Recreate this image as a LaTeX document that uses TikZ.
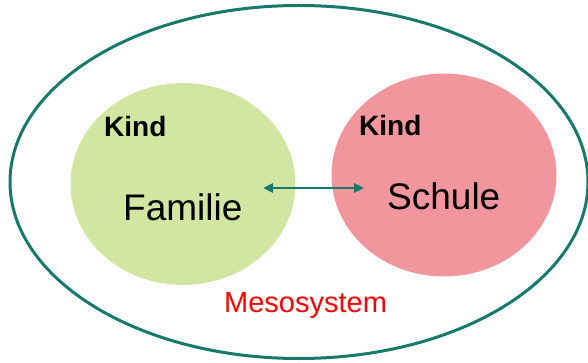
\documentclass[tikz,border=0pt]{standalone}
\usepackage{fontspec}
\setmainfont{Liberation Sans}
\usetikzlibrary{shapes.geometric,arrows.meta}
\definecolor{mesoteal}{HTML}{17786C}
\definecolor{famgreen}{HTML}{D1E7A1}
\definecolor{schulrot}{HTML}{F1969C}
\definecolor{mesorot}{HTML}{FF0000}
\begin{document}
\begin{tikzpicture}
[
    x=1pt, y=-1pt,
    kreis/.style={ellipse, inner sep=0pt},
    textmark/.style={inner sep=0pt, anchor=base west},
    kindtext/.style={textmark, font=\fontsize{28}{32}\selectfont\bfseries},
    orttext/.style={textmark, font=\fontsize{37}{42}\selectfont},
    link/.style={{Triangle[length=10pt,width=9pt]}-{Triangle[length=10pt,width=9pt]}, draw=mesoteal, line width=2.5pt},
]
\useasboundingbox (0,0) rectangle (588,363);
\node [kreis, draw=mesoteal, line width=3pt, minimum width=578pt, minimum height=353pt] (meso) at (299,182) {};
\node [kreis, fill=famgreen, minimum width=225pt, minimum height=202pt] (famkreis) at (183,184) {};
\node [kreis, fill=schulrot, minimum width=225pt, minimum height=203pt] (schulkreis) at (444,175) {};
\node [kindtext] (kindl) at (104,137) {Kind};
\node [kindtext] (kindr) at (359,136) {Kind};
\node [orttext] (familie) at (123,220) {Familie};
\node [orttext] (schule) at (387,210) {Schule};
\node [textmark, text=mesorot, font=\fontsize{29}{33}\selectfont] (mesotext) at (224,312) {Mesosystem};
\coordinate (links) at (263,188);
\coordinate (rechts) at (364,188);
\draw [link] (links) -- (rechts);
\end{tikzpicture}
\end{document}
